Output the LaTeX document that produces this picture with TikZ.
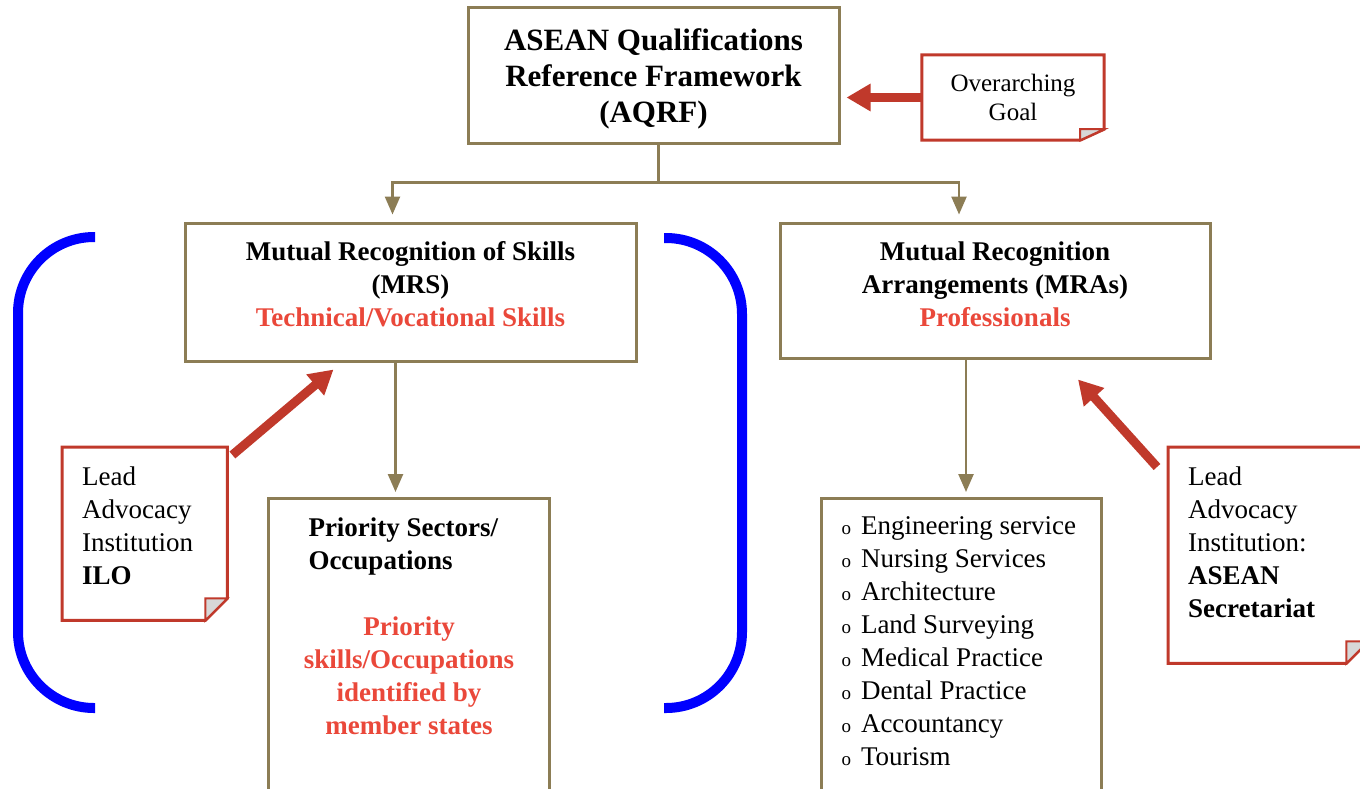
\documentclass[tikz,border=0pt]{standalone}
\usepackage{fontspec}
\setmainfont{Liberation Serif}
\usetikzlibrary{arrows.meta,calc}

\definecolor{boxolive}{RGB}{140,125,85}
\definecolor{notered}{RGB}{192,57,43}
\definecolor{softred}{RGB}{234,72,58}
\definecolor{foldgray}{RGB}{215,215,215}
\newcommand{\RED}[1]{\textcolor{softred}{#1}}
%% outline of a note with a turned-down corner: node, fold in x, fold in y
\newcommand{\dogear}[3]{%
  \draw[notebox] (#1.north west) -- (#1.north east) -- ($(#1.south east)+(0,-#3)$)
    -- ($(#1.south east)+(-#2,0)$) -- (#1.south west) -- cycle;
  \draw[notebox, line width=2, fill=foldgray] ($(#1.south east)+(0,-#3)$)
    -- ($(#1.south east)+(-#2,-#3)$) -- ($(#1.south east)+(-#2,0)$) -- cycle;}

\begin{document}
\begin{tikzpicture}[x=1pt, y=-1pt,
  box/.style={draw=boxolive, line width=3, fill=white, inner sep=0pt, align=center},
  note/.style={inner xsep=20pt, inner ysep=15pt},
  notebox/.style={draw=notered, line width=3, line join=miter},
  redarrow/.style={draw=notered, line width=9, -{Triangle[length=24pt,width=26pt]}},
  olivearrow/.style={draw=boxolive, line width=2.5, -{Triangle[length=18pt,width=15pt]}},
  bracket/.style={draw=blue, line width=10, rounded corners=76pt}]

  \newcommand\bodyfont{\fontsize{27}{33}\selectfont}
  \newcommand\itm{{\fontsize{19}{19}\selectfont o}\hspace{10pt}}

  \useasboundingbox (0,0) rectangle (1360,788);
  \clip (0,0) rectangle (1360,788);

  %% blue brackets round the skills branch
  \draw[bracket] (95,237) -- (18,237) -- (18,708) -- (95,708);
  \draw[bracket] (664,238) -- (742,238) -- (742,708) -- (664,708);

  \node[box, inner ysep=18pt, font=\fontsize{31}{36}\selectfont\bfseries] (aqrf) at (653.5,75)
    {\parbox[c][100pt][t]{371pt}{\centering\strut ASEAN Qualifications\\Reference Framework\\(AQRF)}};

  \node[inner sep=0pt, minimum width=182, minimum height=85, align=center,
    font=\fontsize{25}{29}\selectfont] (goal) at (1013,97.5) {Overarching\\Goal};
  \dogear{goal}{24}{11}

  \node[box, inner ysep=14pt, font=\bodyfont\bfseries] (mrs) at (410.5,292)
    {\parbox[c][110pt][t]{451pt}{\centering\strut Mutual Recognition of Skills\\(MRS)\\
      \RED{Technical/Vocational Skills}}};
  \node[box, inner ysep=14pt, font=\bodyfont\bfseries] (mra) at (995,290.5)
    {\parbox[c][107pt][t]{430pt}{\centering\strut Mutual Recognition\\Arrangements (MRAs)\\
      \RED{Professionals}}};

  \node[box, inner xsep=20pt, inner ysep=15pt, anchor=north west, font=\bodyfont]
    (sectors) at (267,497) {\parbox[c][300pt][t]{241pt}{\strut\bfseries
      \hspace*{20pt}Priority Sectors/\\\hspace*{20pt}Occupations\par\vspace{33pt}
      \centering\color{softred}Priority\\skills/Occupations\\identified by\\member states\par}};

  \node[box, inner xsep=20pt, inner ysep=13pt, anchor=north west, font=\bodyfont]
    (mras) at (820,497) {\parbox[c][300pt][t]{240pt}{\raggedright\strut
      \itm Engineering service\\\itm Nursing Services\\\itm Architecture\\
      \itm Land Surveying\\\itm Medical Practice\\\itm Dental Practice\\
      \itm Accountancy\\\itm Tourism}};

  \node[note, anchor=north west, font=\bodyfont] (ilo) at (62,447)
    {\parbox[c][143pt][t]{125pt}{\raggedright\strut Lead\\Advocacy\\Institution\\\textbf{ILO}}};
  \dogear{ilo}{22}{22}

  \node[note, anchor=north west, font=\bodyfont] (asean) at (1168,447)
    {\parbox[c][186pt][t]{160pt}{\raggedright\strut Lead\\Advocacy\\Institution:\\
      \textbf{ASEAN}\\\textbf{Secretariat}}};
  \dogear{asean}{22}{22}

  %% olive tree lines
  \draw[boxolive, line width=2.5] ([xshift=5pt]aqrf.south) -- ++(0,38) coordinate (split);
  \coordinate (mrshead) at ([xshift=-18pt]mrs.north);
  \coordinate (mrahead) at ([xshift=-36pt]mra.north);
  \coordinate (mrsfoot) at ([xshift=-15pt]mrs.south);
  \coordinate (mrafoot) at ([xshift=-29pt]mra.south);
  \draw[olivearrow, shorten >=7pt] (split) -| (mrshead);
  \draw[olivearrow, shorten >=7pt] (split) -| (mrahead);
  \draw[olivearrow, shorten >=5pt] (mrsfoot) -- (mrsfoot |- sectors.north);
  \draw[olivearrow, shorten >=5pt] (mrafoot) -- (mrafoot |- mras.north);

  %% red arrows from the notes
  \draw[redarrow, shorten >=6pt] (goal.west) -- (goal.west -| aqrf.east);
  \draw[redarrow] ([shift={(5,8)}]ilo.north east) -- ([shift={(-77,7)}]mrs.south);
  \draw[redarrow] ([shift={(-11,20)}]asean.north west) -- ([shift={(83,20)}]mra.south);
\end{tikzpicture}
\end{document}
